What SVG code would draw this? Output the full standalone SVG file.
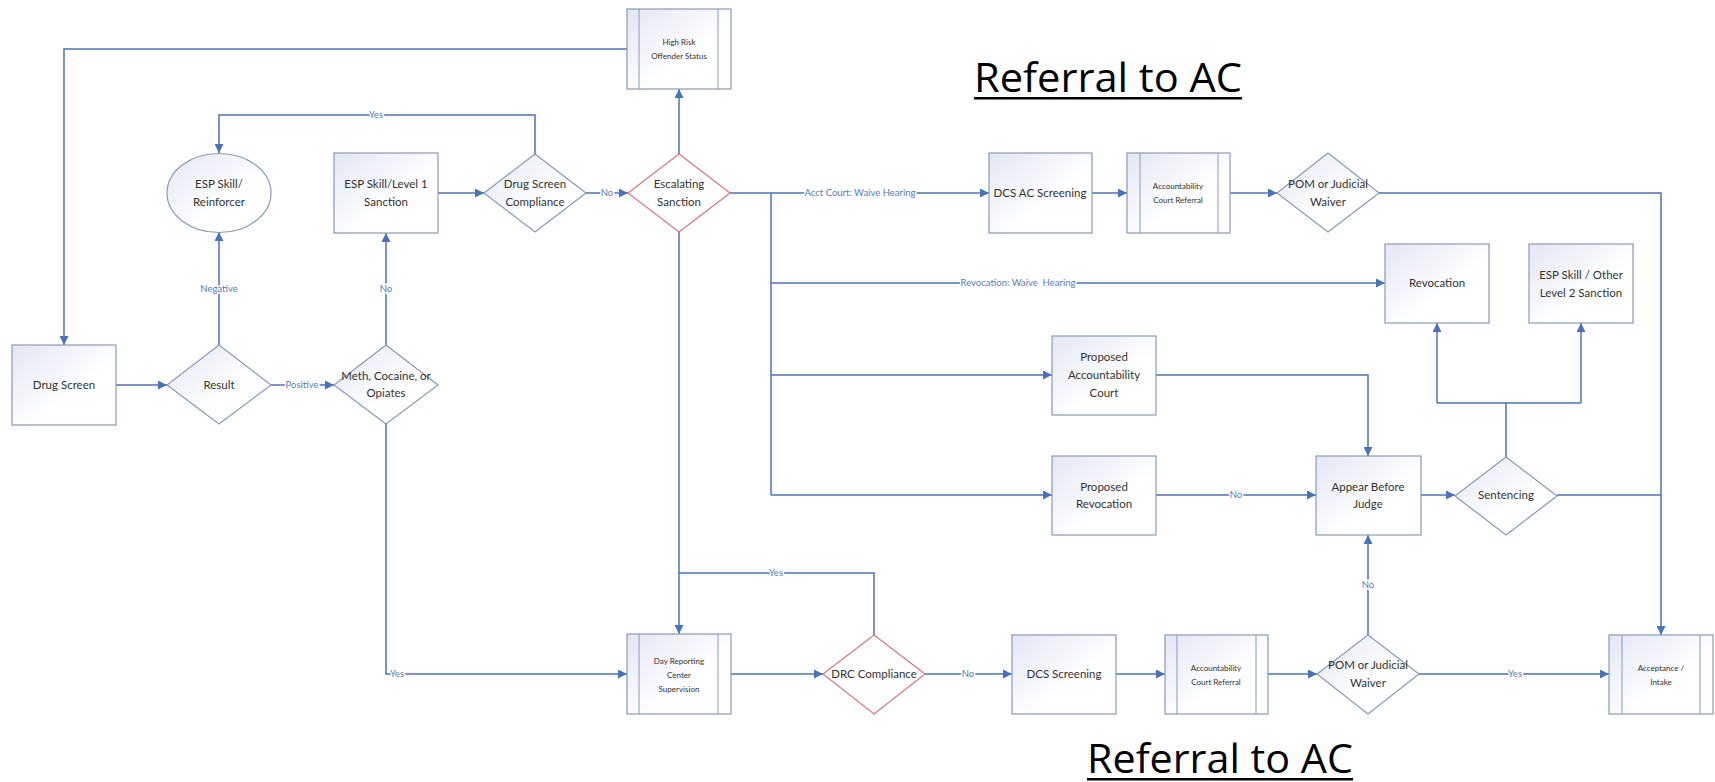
<svg xmlns="http://www.w3.org/2000/svg" width="1715" height="782" viewBox="0 0 1715 782">
<defs>
<linearGradient id="g" x1="0" y1="0" x2="1" y2="1">
<stop offset="0" stop-color="#e3e7f4"/>
<stop offset="0.6" stop-color="#ffffff"/>
</linearGradient>
<marker id="a" viewBox="0 0 10 10" refX="10" refY="5" markerWidth="9" markerHeight="9" markerUnits="userSpaceOnUse" orient="auto">
<path d="M0,0 L10,5 L0,10 z" fill="#4a72b8"/>
</marker>
</defs>
<style>
.n{fill:url(#g);stroke:#8a9ab8;stroke-width:1.2}
.r{fill:#ffffff;stroke:#e07480;stroke-width:1.2}
.s{fill:none;stroke:#8a9ab8;stroke-width:1}
.t{font-family:Lato,"Open Sans","Liberation Sans",sans-serif;font-size:11.5px;fill:#333;text-anchor:middle}
.ts{font-family:Lato,"Open Sans","Liberation Sans",sans-serif;font-size:8px;fill:#333;text-anchor:middle}
.c{fill:none;stroke:#4a72b8;stroke-width:1.5}
.ar{marker-end:url(#a)}
.l{font-family:Lato,"Open Sans","Liberation Sans",sans-serif;font-size:9.5px;fill:#5a7bb5;text-anchor:middle;stroke:#fff;stroke-width:3;paint-order:stroke}
.h{font-family:"Open Sans",Lato,"Liberation Sans",sans-serif;font-size:40px;fill:#000}
</style>
<rect width="1715" height="782" fill="#fff"/>
<g id="connectors">
<path class="c ar" d="M627,49 H64 V345"/>
<path class="c ar" d="M116,385 H167"/>
<path class="c ar" d="M219,345 V232"/>
<path class="c ar" d="M271,385 H334"/>
<path class="c ar" d="M386,345 V233"/>
<path class="c ar" d="M438,193 H484"/>
<path class="c ar" d="M535,154 V115 H219 V153"/>
<path class="c ar" d="M586,193 H628"/>
<path class="c ar" d="M679,154 V89"/>
<path class="c ar" d="M730,193 H989"/>
<path class="c" d="M771,193 V495"/>
<path class="c ar" d="M771,283 H1385"/>
<path class="c ar" d="M771,375 H1052"/>
<path class="c ar" d="M771,495 H1052"/>
<path class="c ar" d="M1092,193 H1127"/>
<path class="c ar" d="M1230,193 H1277"/>
<path class="c ar" d="M1379,193 H1661 V635"/>
<path class="c ar" d="M1156,375 H1368 V456"/>
<path class="c ar" d="M1156,495 H1316"/>
<path class="c ar" d="M1421,495 H1455"/>
<path class="c" d="M1506,457 V403 M1437,403 H1581"/>
<path class="c ar" d="M1437,403 V323"/>
<path class="c ar" d="M1581,403 V323"/>
<path class="c" d="M1557,495 H1661"/>
<path class="c ar" d="M679,232 V634"/>
<path class="c" d="M874,635 V573 H679"/>
<path class="c ar" d="M386,424 V674 H627"/>
<path class="c ar" d="M731,674 H823"/>
<path class="c ar" d="M925,674 H1012"/>
<path class="c ar" d="M1116,674 H1165"/>
<path class="c ar" d="M1233,674 H1317"/>
<path class="c ar" d="M1368,635 V535"/>
<path class="c ar" d="M1419,674 H1609"/>
<rect x="962" y="278" width="113" height="10" fill="#fff"/>
<rect x="806" y="188" width="108" height="10" fill="#fff"/>
<text class="l" x="219" y="292">Negative</text>
<text class="l" x="302" y="388">Positive</text>
<text class="l" x="386" y="292">No</text>
<text class="l" x="376" y="118">Yes</text>
<text class="l" x="607" y="196">No</text>
<text class="l" x="860" y="196">Acct Court: Waive Hearing</text>
<text class="l" x="1018" y="286" xml:space="preserve">Revocation: Waive  Hearing</text>
<text class="l" x="1236" y="498">No</text>
<text class="l" x="776" y="576">Yes</text>
<text class="l" x="397" y="677">Yes</text>
<text class="l" x="968" y="677">No</text>
<text class="l" x="1368" y="588">No</text>
<text class="l" x="1515" y="677">Yes</text>
</g>
<g id="high-risk">
<rect class="n" x="627" y="9" width="104" height="80"/>
<path class="s" d="M639,9 V89 M718,9 V89"/>
<text class="ts" x="679" y="45">High Risk</text>
<text class="ts" x="679" y="59">Offender Status</text>
</g>
<g id="esp-reinforcer">
<ellipse class="n" cx="219" cy="193" rx="52" ry="39.5"/>
<text class="t" x="219" y="188">ESP Skill/</text>
<text class="t" x="219" y="206">Reinforcer</text>
</g>
<g id="esp-level1">
<rect class="n" x="334" y="153" width="104" height="80"/>
<text class="t" x="386" y="188">ESP Skill/Level 1</text>
<text class="t" x="386" y="206">Sanction</text>
</g>
<g id="drug-screen-compliance">
<path class="n" d="M535,154 L586,193 L535,232 L484,193 z"/>
<text class="t" x="535" y="188">Drug Screen</text>
<text class="t" x="535" y="206">Compliance</text>
</g>
<g id="escalating-sanction">
<path class="r" d="M679,154 L730,193 L679,232 L628,193 z"/>
<text class="t" x="679" y="188">Escalating</text>
<text class="t" x="679" y="206">Sanction</text>
</g>
<g id="dcs-ac-screening">
<rect class="n" x="989" y="153" width="103" height="80"/>
<text class="t" x="1040" y="197">DCS AC Screening</text>
</g>
<g id="acct-court-referral-top">
<rect class="n" x="1127" y="153" width="103" height="80"/>
<path class="s" d="M1140,153 V233 M1218,153 V233"/>
<text class="ts" x="1178" y="189">Accountability</text>
<text class="ts" x="1178" y="203">Court Referral</text>
</g>
<g id="pom-top">
<path class="n" d="M1328,153 L1379,193 L1328,232 L1277,193 z"/>
<text class="t" x="1328" y="188">POM or Judicial</text>
<text class="t" x="1328" y="206">Waiver</text>
</g>
<g id="revocation">
<rect class="n" x="1385" y="244" width="104" height="79"/>
<text class="t" x="1437" y="287">Revocation</text>
</g>
<g id="esp-level2">
<rect class="n" x="1529" y="244" width="104" height="79"/>
<text class="t" x="1581" y="279">ESP Skill / Other</text>
<text class="t" x="1581" y="297">Level 2 Sanction</text>
</g>
<g id="drug-screen">
<rect class="n" x="12" y="345" width="104" height="80"/>
<text class="t" x="64" y="389">Drug Screen</text>
</g>
<g id="result">
<path class="n" d="M219,345 L271,385 L219,424 L167,385 z"/>
<text class="t" x="219" y="389">Result</text>
</g>
<g id="meth">
<path class="n" d="M386,345 L438,385 L386,424 L334,385 z"/>
<text class="t" x="386" y="380">Meth, Cocaine, or</text>
<text class="t" x="386" y="397">Opiates</text>
</g>
<g id="proposed-ac">
<rect class="n" x="1052" y="336" width="104" height="79"/>
<text class="t" x="1104" y="361">Proposed</text>
<text class="t" x="1104" y="379">Accountability</text>
<text class="t" x="1104" y="397">Court</text>
</g>
<g id="proposed-revocation">
<rect class="n" x="1052" y="456" width="104" height="79"/>
<text class="t" x="1104" y="491">Proposed</text>
<text class="t" x="1104" y="508">Revocation</text>
</g>
<g id="appear-judge">
<rect class="n" x="1316" y="456" width="105" height="79"/>
<text class="t" x="1368" y="491">Appear Before</text>
<text class="t" x="1368" y="508">Judge</text>
</g>
<g id="sentencing">
<path class="n" d="M1506,457 L1557,496 L1506,535 L1455,496 z"/>
<text class="t" x="1506" y="499">Sentencing</text>
</g>
<g id="day-reporting">
<rect class="n" x="627" y="634" width="104" height="80"/>
<path class="s" d="M639,634 V714 M718,634 V714"/>
<text class="ts" x="679" y="664">Day Reporting</text>
<text class="ts" x="679" y="678">Center</text>
<text class="ts" x="679" y="692">Supervision</text>
</g>
<g id="drc-compliance">
<path class="r" d="M874,635 L925,674 L874,714 L823,674 z"/>
<text class="t" x="874" y="678">DRC Compliance</text>
</g>
<g id="dcs-screening">
<rect class="n" x="1012" y="635" width="104" height="79"/>
<text class="t" x="1064" y="678">DCS Screening</text>
</g>
<g id="acct-court-referral-bottom">
<rect class="n" x="1165" y="635" width="103" height="79"/>
<path class="s" d="M1177,635 V714 M1256,635 V714"/>
<text class="ts" x="1216" y="671">Accountability</text>
<text class="ts" x="1216" y="685">Court Referral</text>
</g>
<g id="pom-bottom">
<path class="n" d="M1368,635 L1419,674 L1368,714 L1317,674 z"/>
<text class="t" x="1368" y="669">POM or Judicial</text>
<text class="t" x="1368" y="687">Waiver</text>
</g>
<g id="acceptance">
<rect class="n" x="1609" y="635" width="104" height="79"/>
<path class="s" d="M1622,635 V714 M1700,635 V714"/>
<text class="ts" x="1661" y="671">Acceptance /</text>
<text class="ts" x="1661" y="685">Intake</text>
</g>
<g id="title-top">
<text class="h" x="974" y="92" textLength="268" lengthAdjust="spacingAndGlyphs">Referral to AC</text>
<rect x="974" y="97" width="268" height="2.5" fill="#000"/>
</g>
<g id="title-bottom">
<text class="h" x="1087" y="773" textLength="266" lengthAdjust="spacingAndGlyphs">Referral to AC</text>
<rect x="1087" y="778" width="266" height="2.5" fill="#000"/>
</g>
</svg>
